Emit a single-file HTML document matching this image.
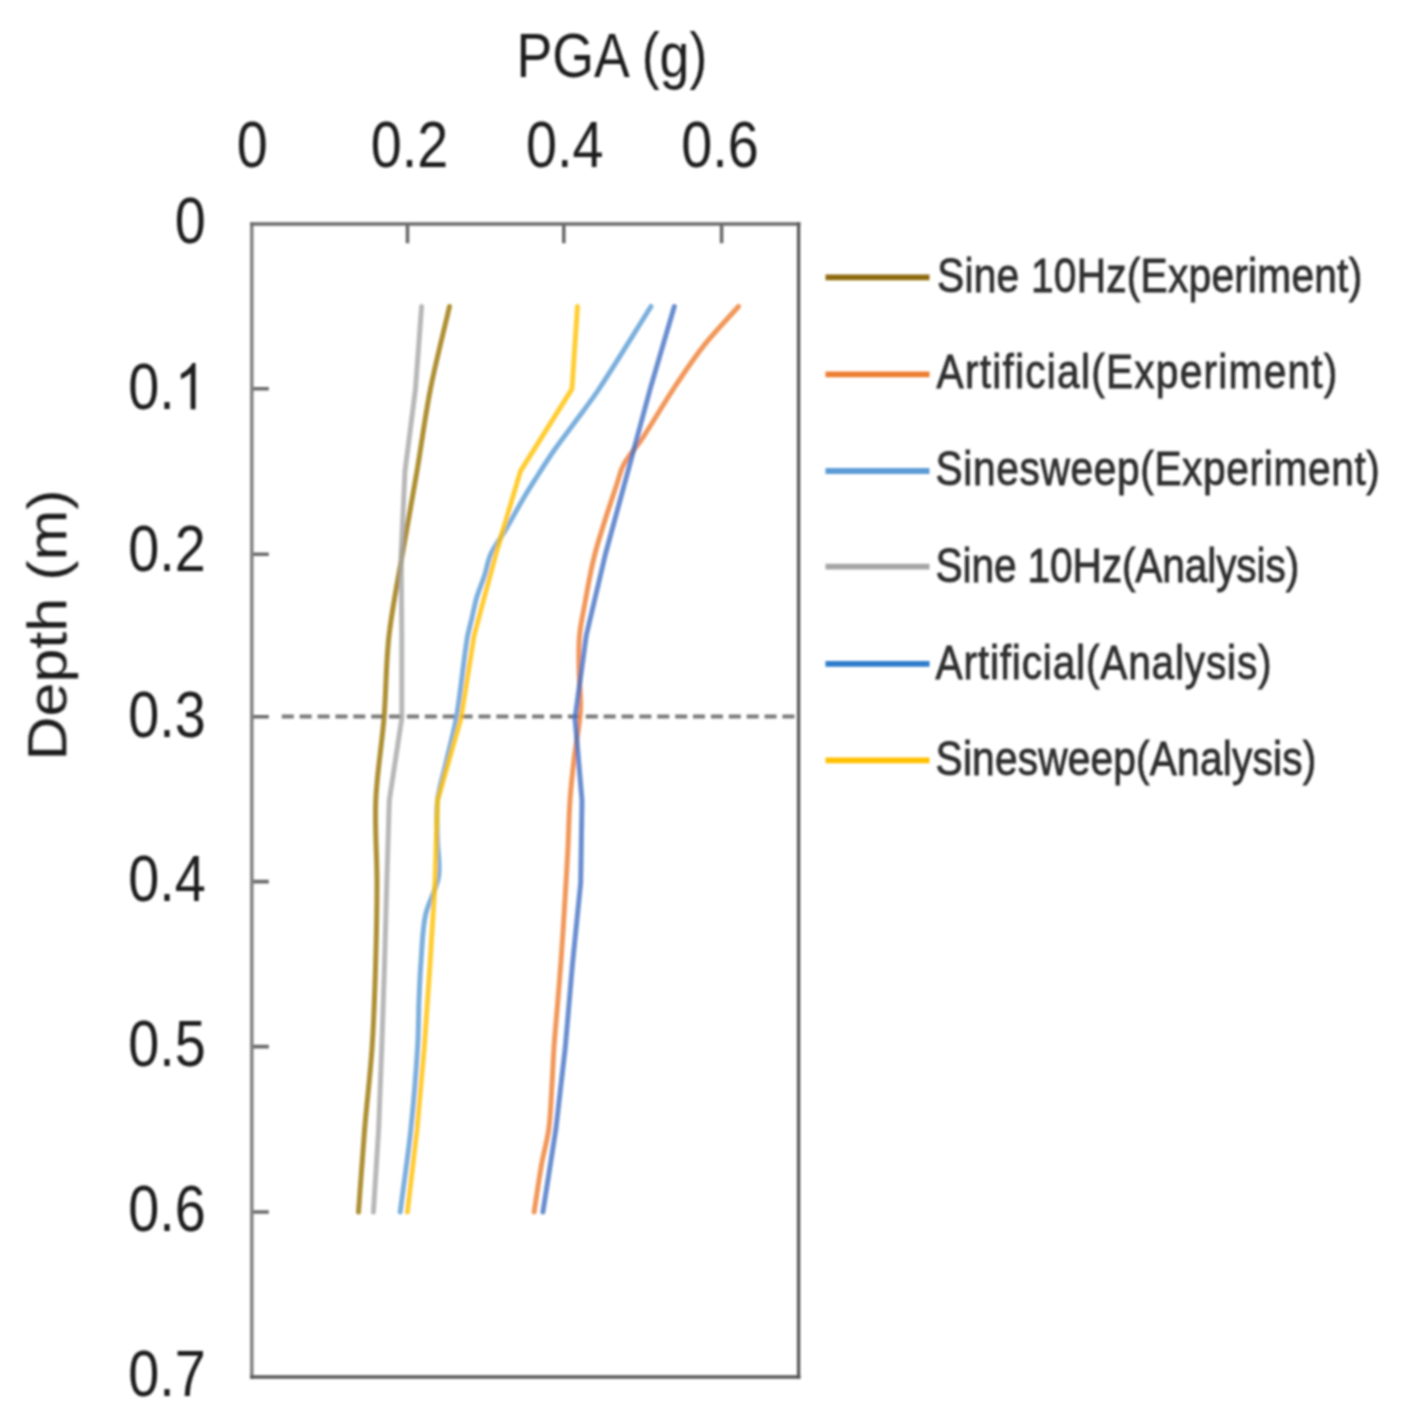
<!DOCTYPE html>
<html><head><meta charset="utf-8"><title>PGA vs Depth</title>
<style>
html,body{margin:0;padding:0;background:#fff;}
body{width:1408px;height:1426px;overflow:hidden;font-family:"Liberation Sans",sans-serif;}
svg{display:block;}
</style></head><body>
<svg width="1408" height="1426" viewBox="0 0 1408 1426">
<defs><filter id="b" x="-2%" y="-2%" width="104%" height="104%"><feGaussianBlur stdDeviation="0.8"/></filter><filter id="b2" x="-2%" y="-2%" width="104%" height="104%"><feGaussianBlur stdDeviation="0.6"/></filter></defs>
<rect x="0" y="0" width="1408" height="1426" fill="#fff"/>
<g filter="url(#b)">
<path d="M407.5 224 V243.3 M563.8 224 V243.3 M721.6 224 V243.3 M251.8 388.8 H268.8 M251.8 554.3 H268.8 M251.8 716.7 H268.8 M251.8 881.6 H268.8 M251.8 1046.6 H268.8 M251.8 1212 H268.8" stroke="#6a6a6a" stroke-width="3.6" fill="none"/>
<path d="M281.8 716.6 H798" stroke="#7a7a7a" stroke-width="4" stroke-dasharray="12 5.88" fill="none"/>
<path d="M251.8 222.2 V1378.8" stroke="#848484" stroke-width="3.6" fill="none"/>
<path d="M250 224 H800.4" stroke="#6c6c6c" stroke-width="3.6" fill="none"/>
<path d="M798.6 222.2 V1378.8" stroke="#5a5a5a" stroke-width="3.4" fill="none"/>
<path d="M250 1377 H800.4" stroke="#585858" stroke-width="3.4" fill="none"/>
<g filter="url(#b2)">
<path d="M449.5 306.5 C443.17 333.93 435.91 361.37 430.5 388.8 C425.08 416.27 421.67 443.73 417 471.2 C412.34 498.63 407.17 526.07 402.5 553.5 C397.83 580.93 392.08 608.37 389 635.8 C385.92 663.23 386.2 690.67 384 718.1 C381.8 745.53 376.97 772.97 375.8 800.4 C374.63 827.87 377.03 855.33 377 882.8 C376.97 910.23 376.42 937.67 375.6 965.1 C374.78 992.53 373.93 1019.97 372.1 1047.4 C370.27 1074.83 366.87 1102.27 364.6 1129.7 C362.33 1157.13 360.53 1184.57 358.5 1212" stroke="#997300" stroke-opacity="0.8" stroke-width="5.0" fill="none" stroke-linecap="round" stroke-linejoin="round"/>
<path d="M738.5 306.5 C727 319.47 714.24 332.43 704 345.4 C692.57 359.87 683.1 374.33 673.5 388.8 C662.77 404.97 653.64 421.13 643 437.3 C637.14 446.2 629.08 455.1 624 464 C620.58 470 619.44 476 617.5 482 C609.78 505.83 601.39 529.67 595 553.5 C590.45 570.47 587.9 587.43 584.7 604.4 C582.73 614.87 580.41 625.33 579.5 635.8 C578.51 647.2 578.85 658.6 579 670 C579.18 683.33 581.24 696.67 580.5 710 C579.58 726.57 575.92 743.13 574 759.7 C572.42 773.27 570.93 786.83 570 800.4 C568.89 816.63 568.69 832.87 567.9 849.1 C567.35 860.33 566.66 871.57 566 882.8 C565.06 898.7 564.12 914.6 563.1 930.5 C562.36 942.03 561.57 953.57 560.7 965.1 C559.67 978.83 558.52 992.57 557.4 1006.3 C556.28 1020 554.94 1033.7 554 1047.4 C553.07 1060.9 552.67 1074.4 551.8 1087.9 C550.9 1101.83 550.56 1115.77 548.7 1129.7 C547.19 1141 543.7 1152.3 541.7 1163.6 C538.84 1179.73 536.63 1195.87 534.1 1212" stroke="#ED7D31" stroke-opacity="0.8" stroke-width="5.0" fill="none" stroke-linecap="round" stroke-linejoin="round"/>
<path d="M651 306.5 C633.67 334 617.05 361.5 599 389 C592.22 399.33 584.06 409.67 576.5 420 C569.23 429.93 561.41 439.87 554.5 449.8 C547.57 459.77 541.35 469.73 535 479.7 C530.69 486.47 526.47 493.23 522.5 500 C516.64 510 511.39 520 505.5 530 C500.89 537.83 494.62 545.67 491 553.5 C487.62 560.83 486.89 568.17 484.5 575.5 C482.19 582.6 479 589.7 476.9 596.8 C474.8 603.9 473.55 611 471.9 618.1 C470.25 625.2 468.11 632.3 467 639.4 C462.97 665.2 460.85 691 456.5 716.8 C454.05 731.3 449.9 745.8 446.6 760.3 C443.56 773.67 439.03 787.03 437.5 800.4 C435.99 813.6 437.33 826.8 437.5 840 C437.66 852.33 440.47 864.67 438.5 877 C436.47 889.67 428.11 902.33 425.5 915 C422.27 930.67 422.2 946.33 421 962 C420.03 974.67 419.5 987.33 419 1000 C418.37 1015.8 418.6 1031.6 417.6 1047.4 C415.87 1074.83 413.7 1102.27 410.8 1129.7 C407.9 1157.13 403.73 1184.57 400.2 1212" stroke="#5B9BD5" stroke-opacity="0.8" stroke-width="5.0" fill="none" stroke-linecap="round" stroke-linejoin="round"/>
<path d="M421.6 306.52 L415.5 388.84 L405 471.16 L401.2 553.48 L401.8 635.8 L401.8 718.12 L389.3 800.44 L386.8 882.76 L384.5 965.08 L381.8 1047.4 L378.6 1129.72 L373.4 1212.04" stroke="#A5A5A5" stroke-opacity="0.8" stroke-width="5.0" fill="none" stroke-linecap="round" stroke-linejoin="round"/>
<path d="M674.3 306.52 L650.2 388.84 L628 471.16 L605.6 553.48 L586.2 635.8 L575 718.12 L582 800.44 L580.7 882.76 L572.4 965.08 L565.3 1047.4 L555.8 1129.72 L542.9 1212.04" stroke="#4472C4" stroke-opacity="0.8" stroke-width="5.0" fill="none" stroke-linecap="round" stroke-linejoin="round"/>
<path d="M577.5 306.52 L572 388.84 L520.5 471.16 L496 553.48 L474 635.8 L461 718.12 L437.5 800.44 L435 882.76 L430 965.08 L424.3 1047.4 L417 1129.72 L407.4 1212.04" stroke="#FFC000" stroke-opacity="0.8" stroke-width="5.0" fill="none" stroke-linecap="round" stroke-linejoin="round"/>
</g>
<text transform="translate(205.8 242.7) scale(0.865 1)" text-anchor="end" font-family="Liberation Sans, sans-serif" font-size="64.5" fill="#1c1c1c">0</text>
<text transform="translate(174.78 409.14) scale(0.865 1)" text-anchor="end" font-family="Liberation Sans, sans-serif" font-size="64.5" fill="#1c1c1c">0.</text>
<path transform="translate(174.78 409.14) scale(55.8 -64.5)" d="M0.3726 0 L0.3726 0.716 L0.318 0.716 Q0.295 0.668 0.215 0.608 Q0.16 0.568 0.109 0.548 L0.109 0.463 Q0.165 0.483 0.215 0.513 Q0.258 0.539 0.2847 0.562 L0.2847 0 Z" fill="#1c1c1c"/>
<text transform="translate(205.8 571.38) scale(0.865 1)" text-anchor="end" font-family="Liberation Sans, sans-serif" font-size="64.5" fill="#1c1c1c">0.2</text>
<text transform="translate(205.8 736.72) scale(0.865 1)" text-anchor="end" font-family="Liberation Sans, sans-serif" font-size="64.5" fill="#1c1c1c">0.3</text>
<text transform="translate(205.8 900.66) scale(0.865 1)" text-anchor="end" font-family="Liberation Sans, sans-serif" font-size="64.5" fill="#1c1c1c">0.4</text>
<text transform="translate(205.8 1065.9) scale(0.865 1)" text-anchor="end" font-family="Liberation Sans, sans-serif" font-size="64.5" fill="#1c1c1c">0.5</text>
<text transform="translate(205.8 1231.24) scale(0.865 1)" text-anchor="end" font-family="Liberation Sans, sans-serif" font-size="64.5" fill="#1c1c1c">0.6</text>
<text transform="translate(205.8 1395.98) scale(0.865 1)" text-anchor="end" font-family="Liberation Sans, sans-serif" font-size="64.5" fill="#1c1c1c">0.7</text>
<text transform="translate(252.3 167.3) scale(0.865 1)" text-anchor="middle" font-family="Liberation Sans, sans-serif" font-size="64.5" fill="#1c1c1c">0</text>
<text transform="translate(409.5 167.3) scale(0.865 1)" text-anchor="middle" font-family="Liberation Sans, sans-serif" font-size="64.5" fill="#1c1c1c">0.2</text>
<text transform="translate(564.8 167.3) scale(0.865 1)" text-anchor="middle" font-family="Liberation Sans, sans-serif" font-size="64.5" fill="#1c1c1c">0.4</text>
<text transform="translate(719.9 167.3) scale(0.865 1)" text-anchor="middle" font-family="Liberation Sans, sans-serif" font-size="64.5" fill="#1c1c1c">0.6</text>
<text transform="translate(611.9 77.4) scale(0.852 1)" text-anchor="middle" font-family="Liberation Sans, sans-serif" font-size="63" fill="#1c1c1c">PGA (g)</text>
<text transform="translate(66.5 625) rotate(-90) scale(1 0.895)" text-anchor="middle" font-family="Liberation Sans, sans-serif" font-size="61" fill="#1c1c1c">Depth (m)</text>
<path d="M825.5 277.4 H929.5" stroke="#8f6a10" stroke-width="5.8" fill="none"/>
<text transform="translate(937.1 292.2) scale(0.83 1)" x="0" y="0" textLength="512.17" lengthAdjust="spacing" font-family="Liberation Sans, sans-serif" font-size="49" fill="#2e2e2e" stroke="#2e2e2e" stroke-width="0.85">Sine 10Hz(Experiment)</text>
<path d="M825.5 374.3 H929.5" stroke="#ED7D31" stroke-width="5.8" fill="none"/>
<text transform="translate(936.6 387.6) scale(0.83 1)" x="0" y="0" textLength="482.89" lengthAdjust="spacing" font-family="Liberation Sans, sans-serif" font-size="49" fill="#2e2e2e" stroke="#2e2e2e" stroke-width="0.85">Artificial(Experiment)</text>
<path d="M825.5 471 H929.5" stroke="#5B9BD5" stroke-width="5.8" fill="none"/>
<text transform="translate(935.6 484.8) scale(0.83 1)" x="0" y="0" textLength="535.3" lengthAdjust="spacing" font-family="Liberation Sans, sans-serif" font-size="49" fill="#2e2e2e" stroke="#2e2e2e" stroke-width="0.85">Sinesweep(Experiment)</text>
<path d="M825.5 566.6 H929.5" stroke="#A5A5A5" stroke-width="5.8" fill="none"/>
<text transform="translate(935.6 581.5) scale(0.83 1)" x="0" y="0" textLength="438.07" lengthAdjust="spacing" font-family="Liberation Sans, sans-serif" font-size="49" fill="#2e2e2e" stroke="#2e2e2e" stroke-width="0.85">Sine 10Hz(Analysis)</text>
<path d="M825.5 663.8 H929.5" stroke="#2E7DCB" stroke-width="5.8" fill="none"/>
<text transform="translate(935.6 678.5) scale(0.83 1)" x="0" y="0" textLength="404.82" lengthAdjust="spacing" font-family="Liberation Sans, sans-serif" font-size="49" fill="#2e2e2e" stroke="#2e2e2e" stroke-width="0.85">Artificial(Analysis)</text>
<path d="M825.5 760.4 H929.5" stroke="#FFC000" stroke-width="5.8" fill="none"/>
<text transform="translate(935.6 774.5) scale(0.83 1)" x="0" y="0" textLength="458.55" lengthAdjust="spacing" font-family="Liberation Sans, sans-serif" font-size="49" fill="#2e2e2e" stroke="#2e2e2e" stroke-width="0.85">Sinesweep(Analysis)</text>
</g>
</svg>
</body></html>
